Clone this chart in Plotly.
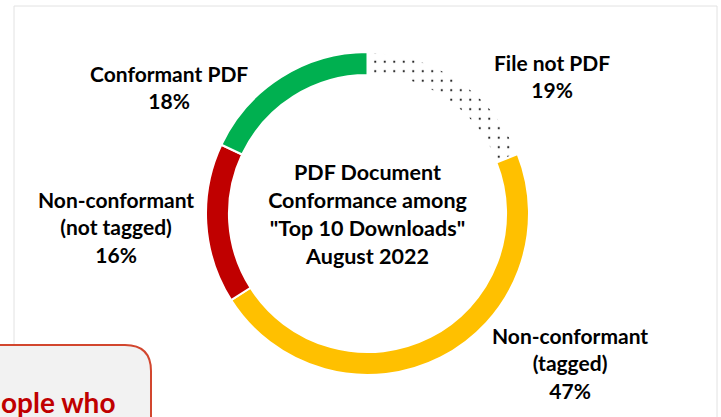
import plotly.graph_objects as go

labels = ["File not PDF", "Non-conformant<br>(tagged)", "Non-conformant<br>(not tagged)", "Conformant PDF"]
values = [19, 47, 16, 18]
colors = ["#FFFFFF", "#FFC000", "#C00000", "#00B050"]
patterns = [".", "", "", ""]
center_title = "PDF Document<br>Conformance among<br>\"Top 10 Downloads\"<br>August 2022"
callout_text = "ople who"

W, H = 721, 417
FONT = "Lato"

fig = go.Figure()
fig.add_trace(go.Pie(
    labels=labels,
    values=values,
    sort=False,
    direction="clockwise",
    rotation=0,
    hole=0.858,
    textinfo="none",
    hoverinfo="label+percent",
    showlegend=False,
    marker=dict(
        colors=colors,
        line=dict(color="white", width=2),
        pattern=dict(shape=patterns, fgcolor="#202020", size=9.5, solidity=0.04, fillmode="replace"),
    ),
    title=dict(text=center_title, position="middle center",
               font=dict(family=FONT, size=21.5, color="black", weight="bold")),
    domain=dict(x=[206 / W, 529 / W], y=[1 - 375 / H, 1 - 52 / H]),
))

# label positions (pixel centres of text blocks)
label_pos = [(551.5, 76.5), (570, 363), (115.5, 227), (169, 86.5)]
total = sum(values)
for lab, v, (px, py) in zip(labels, values, label_pos):
    fig.add_annotation(
        x=px / W, y=1 - py / H, xref="paper", yref="paper",
        text=f"{lab}<br>{round(100 * v / total)}%",
        showarrow=False, xanchor="center", yanchor="middle", align="center",
        font=dict(family=FONT, size=21, color="black", weight="bold"),
    )

# outer chart border
fig.add_shape(type="rect", xref="paper", yref="paper",
              x0=14 / W, x1=717 / W, y0=-0.05, y1=1 - 6 / H,
              line=dict(color="#E2E2E2", width=1), fillcolor="rgba(0,0,0,0)", layer="below")

# callout box with rounded top-right corner
bx0, bx1, by0, by1, r = -10, 151, 345, 440, 26
def P(x, y):
    return f"{x / W:.5f},{1 - y / H:.5f}"
path = (f"M {P(bx0, by1)} L {P(bx0, by0)} L {P(bx1 - r, by0)} "
        f"Q {P(bx1, by0)} {P(bx1, by0 + r)} L {P(bx1, by1)} Z")
fig.add_shape(type="path", xref="paper", yref="paper", path=path,
              fillcolor="#F2F2F2", line=dict(color="#D2462E", width=2))
fig.add_annotation(x=-1 / W, y=1 - 402 / H, xref="paper", yref="paper",
                   text=callout_text, showarrow=False, xanchor="left", yanchor="middle",
                   font=dict(family=FONT, size=28, color="#C00000", weight="bold"))

fig.update_layout(
    width=W, height=H,
    margin=dict(l=0, r=0, t=0, b=0),
    paper_bgcolor="white", plot_bgcolor="white",
)
fig.write_html("out.html", config={"displayModeBar": False},
               post_script="document.body.style.margin='0';")
